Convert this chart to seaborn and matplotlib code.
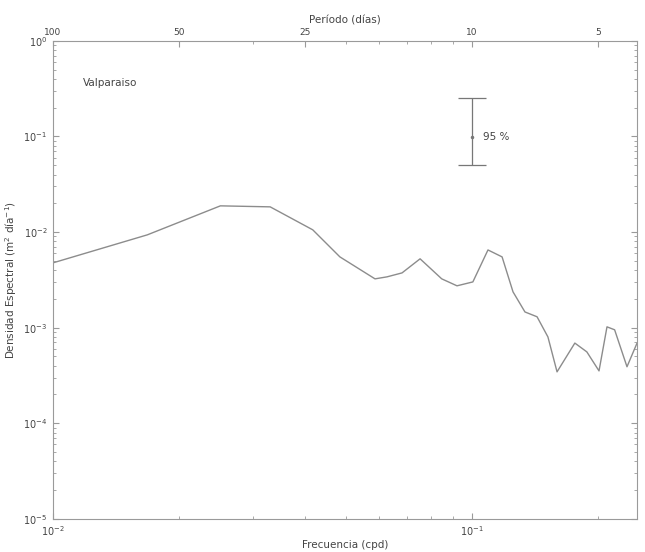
import numpy as np
import pandas as pd
import matplotlib
matplotlib.use("Agg")
import matplotlib.pyplot as plt
import seaborn as sns
from matplotlib.ticker import FixedLocator, NullFormatter, LogLocator

# Data
freq = [0.0100, 0.0168, 0.0251, 0.0330, 0.0417, 0.0484, 0.0587, 0.0627, 0.0681,
        0.0752, 0.0847, 0.0921, 0.1005, 0.1092, 0.1180, 0.1253, 0.1338, 0.1430,
        0.1518, 0.1596, 0.1760, 0.1880, 0.2010, 0.2100, 0.2190, 0.2344, 0.2477]
density = [4.76e-3, 9.35e-3, 1.88e-2, 1.835e-2, 1.055e-2, 5.5e-3, 3.24e-3, 3.4e-3, 3.74e-3,
           5.25e-3, 3.24e-3, 2.74e-3, 3.01e-3, 6.5e-3, 5.5e-3, 2.37e-3, 1.46e-3, 1.30e-3,
           8.0e-4, 3.45e-4, 6.9e-4, 5.58e-4, 3.53e-4, 1.02e-3, 9.5e-4, 3.9e-4, 6.9e-4]
ci_x = 0.1
ci_center = 0.099
ci_low = 0.0504
ci_high = 0.2535
period_ticks = [0.01, 0.02, 0.04, 0.1, 0.2]
period_labels = ["100", "50", "25", "10", "5"]
station = "Valparaiso"

sns.set_style("ticks")
plt.rcParams["font.family"] = ["DejaVu Sans"]

fig = plt.figure(figsize=(6.45, 5.52), dpi=100)
ax = fig.add_axes([0.082, 0.060, 0.906, 0.866])

df = pd.DataFrame({"freq": freq, "density": density})
sns.lineplot(data=df, x="freq", y="density", ax=ax, color="#8c8c8c", linewidth=1.0)

ax.set_xscale("log")
ax.set_yscale("log")
ax.set_xlim(0.01, 0.248)
ax.set_ylim(1e-5, 1)

txtc = "#444444"
ax.errorbar([ci_x], [ci_center], yerr=[[ci_center - ci_low], [ci_high - ci_center]],
            fmt="none", ecolor="#777777", elinewidth=0.9, capsize=10, capthick=0.9)
ax.plot([ci_x], [ci_center], marker="o", markersize=1.5, color="#777777")
ax.text(0.1065, ci_center, "95 %", fontsize=7.5, color=txtc, va="center", ha="left")
ax.text(0.0118, 0.36, station, fontsize=7.5, color=txtc, va="center", ha="left")

for s in ax.spines.values():
    s.set_color("#9a9a9a")
    s.set_linewidth(0.8)
    s.set_visible(True)

ax.tick_params(axis="both", which="both", direction="in", colors="#9a9a9a",
               labelcolor=txtc, labelsize=7, right=True)
ax.tick_params(which="major", length=4)
ax.tick_params(which="minor", length=2)
ax.tick_params(axis="x", which="both", top=False, pad=4)
ax.tick_params(axis="y", which="both", pad=4)
ax.yaxis.set_minor_locator(LogLocator(base=10, subs=np.arange(2, 10), numticks=20))
ax.yaxis.set_minor_formatter(NullFormatter())
ax.xaxis.set_minor_formatter(NullFormatter())

ax.set_xlabel("Frecuencia (cpd)", fontsize=7.5, color=txtc, labelpad=1)
ax.set_ylabel("Densidad Espectral (m$^2$ día$^{-1}$)", fontsize=7.5, color=txtc, labelpad=3)

top = ax.twiny()
top.set_xscale("log")
top.set_xlim(ax.get_xlim())
top.xaxis.set_major_locator(FixedLocator(period_ticks))
top.set_xticklabels(period_labels)
top.xaxis.set_minor_locator(LogLocator(base=10, subs=np.arange(2, 10), numticks=20))
top.xaxis.set_minor_formatter(NullFormatter())
top.tick_params(axis="x", which="both", direction="in", colors="#9a9a9a",
                labelcolor=txtc, labelsize=6.5, pad=3)
top.tick_params(which="major", length=4)
top.tick_params(which="minor", length=2)
top.set_xlabel("Período (días)", fontsize=7.5, color=txtc, labelpad=3)
for s in top.spines.values():
    s.set_visible(False)

fig.savefig("out.png", dpi=100, facecolor="white")
